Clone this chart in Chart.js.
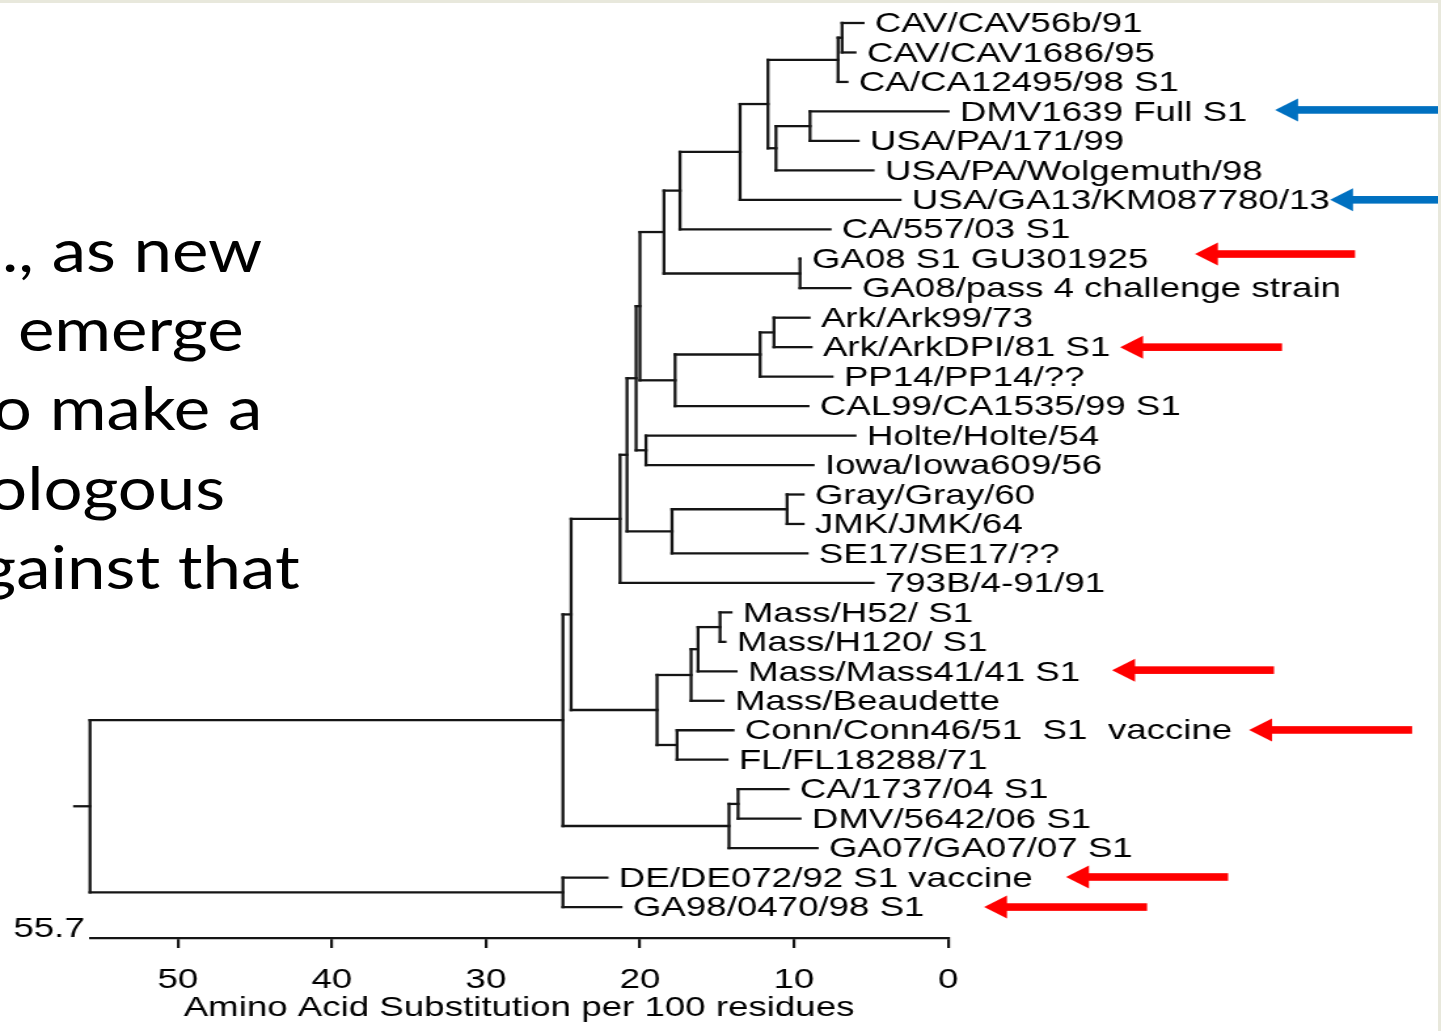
<!DOCTYPE html>
<html>
<head>
<meta charset="utf-8">
<title>IBV S1 tree</title>
<script src="https://cdn.jsdelivr.net/npm/chart.js@4.4.1/dist/chart.umd.min.js"></script>
<style>
  html, body { margin: 0; padding: 0; background: #fff; overflow: hidden; }
  body { width: 1441px; height: 1031px; position: relative; }
  /* the tree figure is stretched sideways on the slide */
  #wrap { position: absolute; left: 0; top: 0; width: 1100px; height: 1031px; transform: scaleX(1.31); transform-origin: 0 0; }
  .slideLine { position: absolute; font-family: Lato, "Open Sans", sans-serif; font-size: 60px; line-height: 60px; color: #000; white-space: pre; text-align: right; transform: scaleX(1.15); transform-origin: 100% 0; }
  #bandTop { position: absolute; left: 0; top: 0; width: 1441px; height: 3px; background: #e8e8dc; }
  #bandRight { position: absolute; left: 1438px; top: 0; width: 3px; height: 1031px; background: #e8e8dc; }
</style>
</head>
<body>
<div id="wrap"><canvas id="tree"></canvas></div>
<div id="bandTop"></div>
<div id="bandRight"></div>
<script>
// leaves, top to bottom
const leafLabels = [
  'CAV/CAV56b/91', 'CAV/CAV1686/95', 'CA/CA12495/98 S1', 'DMV1639 Full S1',
  'USA/PA/171/99', 'USA/PA/Wolgemuth/98', 'USA/GA13/KM087780/13', 'CA/557/03 S1',
  'GA08 S1 GU301925', 'GA08/pass 4 challenge strain', 'Ark/Ark99/73', 'Ark/ArkDPI/81 S1',
  'PP14/PP14/??', 'CAL99/CA1535/99 S1', 'Holte/Holte/54', 'Iowa/Iowa609/56',
  'Gray/Gray/60', 'JMK/JMK/64', 'SE17/SE17/??', '793B/4-91/91',
  'Mass/H52/ S1', 'Mass/H120/ S1', 'Mass/Mass41/41 S1', 'Mass/Beaudette',
  'Conn/Conn46/51  S1  vaccine', 'FL/FL18288/71', 'CA/1737/04 S1', 'DMV/5642/06 S1',
  'GA07/GA07/07 S1', 'DE/DE072/92 S1 vaccine', 'GA98/0470/98 S1'
];
// distance (substitutions per 100 residues) where each leaf branch ends
const leafDist = [
  5.52, 6.04, 6.56, 0.0, 5.84, 4.87, 3.12, 7.66,
  9.61, 6.36, 9.02, 8.89, 7.53, 9.09, 6.04, 8.76,
  9.41, 9.41, 9.15, 4.87, 14.09, 14.48, 13.76, 14.61,
  13.96, 14.35, 10.39, 9.61, 8.50, 22.14, 21.23
];

// internal nodes: numbers are leaf indexes, strings are other nodes
const nodeIds = ['cav', 'ca98', 'dmv', 'pa', 'ca98pa', 'ga13', 'ca03', 'ga08', 'top',
  'ark', 'pp14', 'cal99', 'arkTop', 'holte', 'holteTop', 'gray', 'se17', 'graySe', 'b793',
  'h52', 'm41', 'beau', 'conn', 'mass', 'massTop', 'dmv06', 'ga07', 'upper', 'de', 'root'];
const nodeKids = [[0, 1], ['cav', 2], [3, 4], ['dmv', 5], ['ca98', 'pa'], ['ca98pa', 6], ['ga13', 7], [8, 9], ['ca03', 'ga08'],
  [10, 11], ['ark', 12], ['pp14', 13], ['top', 'cal99'], [14, 15], ['arkTop', 'holte'], [16, 17], ['gray', 18], ['holteTop', 'se17'], ['graySe', 19],
  [20, 21], ['h52', 22], ['m41', 23], [24, 25], ['beau', 'conn'], ['b793', 'mass'], [26, 27], ['dmv06', 28], ['massTop', 'ga07'], [29, 30], ['upper', 'de']];
const nodeDist = [6.88, 7.14, 8.96, 11.17, 11.69, 13.50, 17.40, 9.61, 18.44,
  11.30, 12.20, 17.72, 20.00, 19.61, 20.25, 10.45, 17.92, 20.84, 21.29,
  14.80, 16.23, 16.68, 17.59, 18.89, 24.47, 13.63, 14.22, 25.00, 25.00, 55.70];
const rootStub = 56.7;

const xTicks = [50, 40, 30, 20, 10, 0];
const axisStart = 55.7;

// arrows pointing at strains: row (leaf units), head and tail (distance units, right of 0)
const arrowRow   = [2.95, 6.0, 7.84, 11.0, 21.96, 23.99, 28.98, 30.0];
const arrowHead  = [-21.23, -24.8, -16.03, -11.17, -10.65, -19.54, -7.66, -2.34];
const arrowTail  = [-32.2, -32.2, -26.42, -21.68, -21.16, -30.12, -18.18, -12.92];
const arrowColor = ['#0070c0', '#0070c0', '#ff0000', '#ff0000', '#ff0000', '#ff0000', '#ff0000', '#ff0000'];

// slide text partly hidden behind the figure
const slideText = ['., as new', ' emerge', 'o make a', 'ologous', 'gainst that'];
const slideRight = [262, 244, 262, 225, 300];
const slideBase = [272, 351, 430, 510, 589];

slideText.forEach((t, i) => {
  const d = document.createElement('div');
  d.className = 'slideLine';
  d.textContent = t;
  d.style.right = (1441 - slideRight[i]) + 'px';
  d.style.top = (slideBase[i] - 53) + 'px';
  document.body.appendChild(d);
});

// work out y of every node and build the branch segments
const yOf = {}, dOf = {}, parent = {};
leafLabels.forEach((_, i) => { yOf[i] = i; dOf[i] = leafDist[i]; });
nodeIds.forEach((id, k) => {
  const kids = nodeKids[k];
  yOf[id] = (yOf[kids[0]] + yOf[kids[kids.length - 1]]) / 2;
  dOf[id] = nodeDist[k];
  kids.forEach(c => { parent[c] = id; });
});

const lineColor = '#151515';
const datasets = [];
function seg(x1, y1, x2, y2) {
  datasets.push({
    data: [{ x: x1, y: y1 }, { x: x2, y: y2 }],
    showLine: true, borderColor: lineColor, borderWidth: 2.3, borderCapStyle: 'square',
    pointRadius: 0, clip: false
  });
}
leafLabels.forEach((_, i) => seg(dOf[parent[i]], i, leafDist[i], i));
nodeIds.forEach((id, k) => {
  const from = id === 'root' ? rootStub : dOf[parent[id]];
  seg(from, yOf[id], nodeDist[k], yOf[id]);
  const kids = nodeKids[k];
  seg(nodeDist[k], yOf[kids[0]], nodeDist[k], yOf[kids[kids.length - 1]]);
});

const FONT = '"Liberation Sans", Arial, Helvetica, sans-serif';

const treeText = {
  id: 'treeText',
  afterDraw(chart) {
    const { ctx, scales: { x, y }, chartArea } = chart;
    ctx.save();
    ctx.font = '28px ' + FONT;
    ctx.fillStyle = '#000';
    ctx.textBaseline = 'middle';
    leafLabels.forEach((t, i) => {
      ctx.fillText(t, x.getPixelForValue(leafDist[i]) + 9, y.getPixelForValue(i) + 1.5);
    });
    ctx.textAlign = 'right';
    ctx.fillText(String(axisStart), x.getPixelForValue(axisStart) - 4, chartArea.bottom - 9);

    const headLen = 17.5, headHalf = 11.5, shaftHalf = 3.8;
    arrowRow.forEach((r, k) => {
      const yy = y.getPixelForValue(r);
      const xh = x.getPixelForValue(arrowHead[k]);
      const xt = x.getPixelForValue(arrowTail[k]);
      ctx.fillStyle = arrowColor[k];
      ctx.fillRect(xh + headLen - 1, yy - shaftHalf, xt - xh - headLen + 1, shaftHalf * 2);
      ctx.beginPath();
      ctx.moveTo(xh, yy);
      ctx.lineTo(xh + headLen, yy - headHalf);
      ctx.lineTo(xh + headLen, yy + headHalf);
      ctx.closePath();
      ctx.fill();
    });
    ctx.restore();
  }
};

new Chart(document.getElementById('tree'), {
  type: 'scatter',
  data: { datasets },
  options: {
    responsive: true,
    maintainAspectRatio: false,
    animation: false,
    events: [],
    layout: { padding: { left: 68.7, right: 376.3, top: 23, bottom: 0 } },
    plugins: { legend: { display: false }, tooltip: { enabled: false } },
    scales: {
      x: {
        type: 'linear', min: 0, max: axisStart, reverse: true,
        afterFit: s => { s.height = 93; },
        afterBuildTicks: s => { s.ticks = xTicks.map(v => ({ value: v })); },
        grid: { drawOnChartArea: false, drawTicks: true, tickLength: 10, color: lineColor, lineWidth: 2.2 },
        border: { display: true, color: lineColor, width: 2.2 },
        ticks: { padding: 15, color: '#000', font: { family: FONT, size: 28 }, maxRotation: 0, autoSkip: false },
        title: {
          display: true, text: 'Amino Acid Substitution per 100 residues', color: '#000',
          font: { family: FONT, size: 28 }, padding: { top: 0, bottom: 6 }
        }
      },
      y: { type: 'linear', display: false, min: 0, max: 31.05, reverse: true }
    }
  },
  plugins: [treeText]
});
</script>
</body>
</html>
